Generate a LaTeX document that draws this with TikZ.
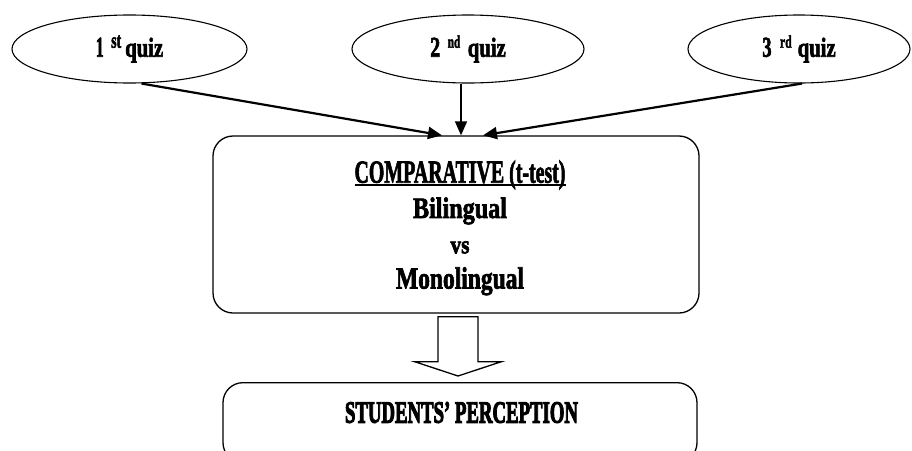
\documentclass[tikz,border=0pt]{standalone}
\usepackage{fontspec}
\usepackage{graphicx}
\setmainfont{Liberation Serif}
\newfontfamily\fB{Liberation Serif}[BoldFeatures={FakeBold=2.5}]
\newfontfamily\fP{Liberation Serif}[BoldFeatures={FakeBold=4}]
\newcommand\fit[3]{\resizebox{#1}{#2}{#3}}
\newcommand\thickul[1]{\begingroup\setbox0\hbox{#1}\leavevmode\rlap{\rule[-3.7pt]{\wd0}{2.2pt}}\box0\endgroup}
% digit, digit width, gap, sup, sup width, gap
\newcommand\qz[6]{\fit{#2}{19pt}{#1}\hspace{#3}\raisebox{9pt}{\fit{#5}{12.3pt}{#4}}\hspace{#6}\fit{38pt}{19pt}{quiz}}
\newcommand\shl[1]{\hspace*{8pt}#1}
\usetikzlibrary{arrows.meta,calc,shapes.geometric}
\begin{document}
\begin{tikzpicture}[x=1pt,y=-1pt,
  quiz/.style={ellipse, draw, line width=1.1pt, minimum height=68pt, inner sep=0pt,
    font=\fB\bfseries\fontsize{28}{32}\selectfont},
  panel/.style={draw, rounded corners=20pt, line width=1.3pt},
  link/.style={-{Triangle[length=14pt,width=12pt]}, line width=2.2pt},
  blockarrow/.style={draw, line width=1.3pt, fill=white, line join=miter}]
\clip (0,0) rectangle (912,450);
\useasboundingbox (0,0) rectangle (912,450);

\node[quiz, minimum width=235pt] (q1) at (129.5,49) {\qz{1}{8pt}{7.4pt}{st}{10pt}{4pt}};
\node[quiz, minimum width=232pt] (q2) at (468,49) {\qz{2}{10pt}{7.6pt}{nd}{12.4pt}{7.6pt}};
\node[quiz, minimum width=222pt] (q3) at (799,49) {\qz{3}{9.3pt}{8.4pt}{rd}{11.7pt}{6pt}};

\node[panel, minimum width=486pt, minimum height=177pt, align=center,
  font=\fB\bfseries\fontsize{31.5}{35.3}\selectfont] (mid) at (456,224.5)
  {\shl{\rule{0pt}{29pt}\thickul{\fit{211pt}{22.3pt}{COMPARATIVE (t-test)}}}\\
   \shl{\fit{94pt}{20.5pt}{Bilingual}}\\
   \shl{\fit{19pt}{12pt}{vs}}\\
   \shl{\fit{128pt}{21.3pt}{Monolingual}}};

\node[panel, anchor=north, minimum width=474pt, inner ysep=0pt, text height=40pt, text depth=40pt,
  font=\fP\bfseries\fontsize{30}{34}\selectfont] (perc) at (460,382)
  {\hspace*{3pt}\fit{233pt}{20.6pt}{STUDENTS’ PERCEPTION}};

\draw[link] ($(q1.south)+(12,0)$) -- ($(mid.north)+(-14,0)$);
\draw[link, line width=1.5pt] ($(q2.south)+(-7,0)$) -- ($(mid.north)+(5,0)$);
\draw[link] ($(q3.south)+(3,0)$) -- ($(mid.north)+(27,0)$);

\coordinate (ba) at ($(mid.south)+(2,3)$);
\coordinate (bt) at ($(perc.north)+(-2,-6)$);
\draw[blockarrow] ($(ba)+(-20,0)$) -- ($(ba)+(20,0)$) -- ($(ba)+(20,45)$) -- ($(ba)+(43.5,45)$)
  -- (bt) -- ($(ba)+(-43.5,45)$) -- ($(ba)+(-20,45)$) -- cycle;
\end{tikzpicture}
\end{document}
